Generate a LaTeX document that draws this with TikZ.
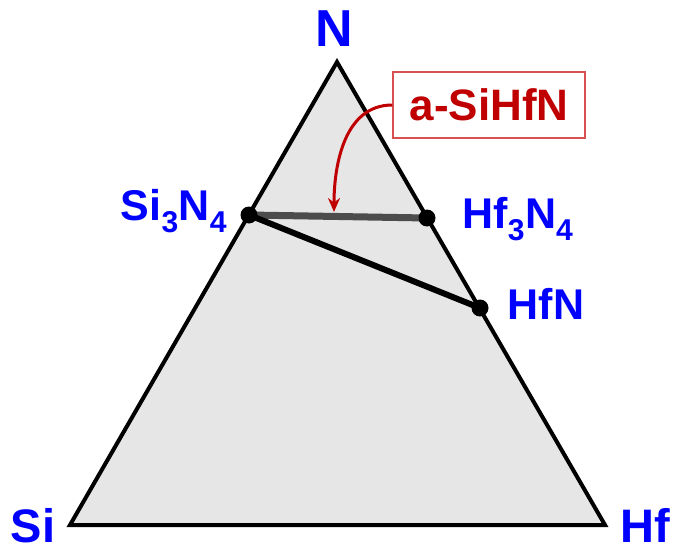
\documentclass[tikz,border=0pt]{standalone}
\usepackage{fontspec}
\setmainfont{Liberation Sans}
\usetikzlibrary{arrows.meta,positioning}
\definecolor{elemblue}{HTML}{0000FF}
\definecolor{phasered}{HTML}{C00000}
\definecolor{boxred}{HTML}{D85050}
\definecolor{phasegray}{HTML}{E6E6E6}

\begin{document}
\begin{tikzpicture}[x=1pt,y=-1pt,
  elem/.style={text=elemblue,inner sep=0pt,anchor=base,font=\bfseries\fontsize{#1}{#1}\selectfont},
  phasedot/.style={circle,fill=black,inner sep=0pt,minimum size=17pt}]
  \useasboundingbox (0,0) rectangle (673,551);
  % corners of the ternary diagram
  \coordinate (N) at (337,62);
  \coordinate (Si) at (70,525);
  \coordinate (Hf) at (605,525);
  \coordinate (pSiN) at (249,215);
  \coordinate (pHfNa) at (427,218);
  \coordinate (pHfN) at (480,308);
  \draw[line width=4pt,fill=phasegray,line join=miter] (Si) -- (Hf) -- (N) -- cycle;
  % tie lines
  \draw[line width=7pt,draw=black!70] (pSiN) -- (pHfNa);
  \draw[line width=6pt] (pSiN) -- (pHfN);
  \node[phasedot] (SiN) at (pSiN) {};
  \node[phasedot] (HfNa) at (pHfNa) {};
  \node[phasedot] (HfN) at (pHfN) {};
  % labels
  \node[elem=52] (lN) at (334,47) {N};
  \node[elem=47] (lSi) at (33,542) {Si};
  \node[elem=47] (lHf) at (645,542) {Hf};
  \node[elem=43] (lSiN) at (174,220) {Si\textsubscript{3}N\textsubscript{4}};
  \node[elem=43] (lHfNa) at (518,228) {Hf\textsubscript{3}N\textsubscript{4}};
  \node[elem=43] (lHfN) at (546,319) {HfN};
  % amorphous phase
  \node[draw=boxred,line width=1.5pt,fill=white,text=phasered,font=\bfseries\fontsize{44}{44}\selectfont,
        minimum width=192pt,minimum height=66pt,inner sep=0pt] (aSiHfN) at (489,105) {a-SiHfN};
  \coordinate (tip) at (334,212);
  \draw[phasered,line width=3pt,-{Stealth[length=14pt,width=12pt]}] (aSiHfN.west) to[out=180,in=90] (tip);
\end{tikzpicture}
\end{document}
